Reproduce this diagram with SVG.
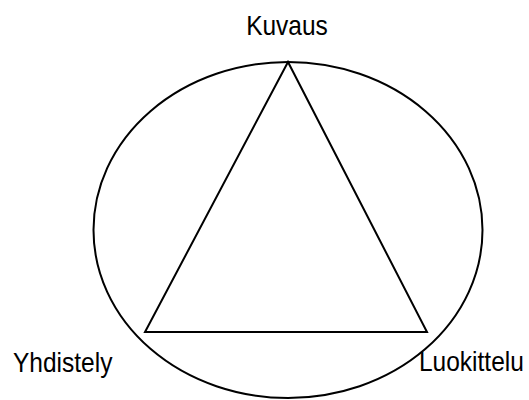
<svg xmlns="http://www.w3.org/2000/svg" width="529" height="400" viewBox="0 0 529 400">
<style>
.shape{fill:none;stroke:#000;stroke-width:2}
.lbl{font-family:"Liberation Sans",Arial,sans-serif;font-size:24.5px;fill:#000}
</style>
<rect width="529" height="400" fill="#fff"/>
<g id="ellipse"><ellipse class="shape" cx="288" cy="230" rx="194.5" ry="168"/></g>
<g id="connectors">
<polygon class="shape" points="288,62 145,332 427,332" stroke-linejoin="miter"/>
</g>
<g id="kuvaus"><text class="lbl" transform="translate(287,35) scale(1,1.14)" text-anchor="middle">Kuvaus</text></g>
<g id="yhdistely"><text class="lbl" transform="translate(13,372) scale(1,1.14)">Yhdistely</text></g>
<g id="luokittelu"><text class="lbl" transform="translate(419,371) scale(1,1.14)">Luokittelu</text></g>
</svg>
